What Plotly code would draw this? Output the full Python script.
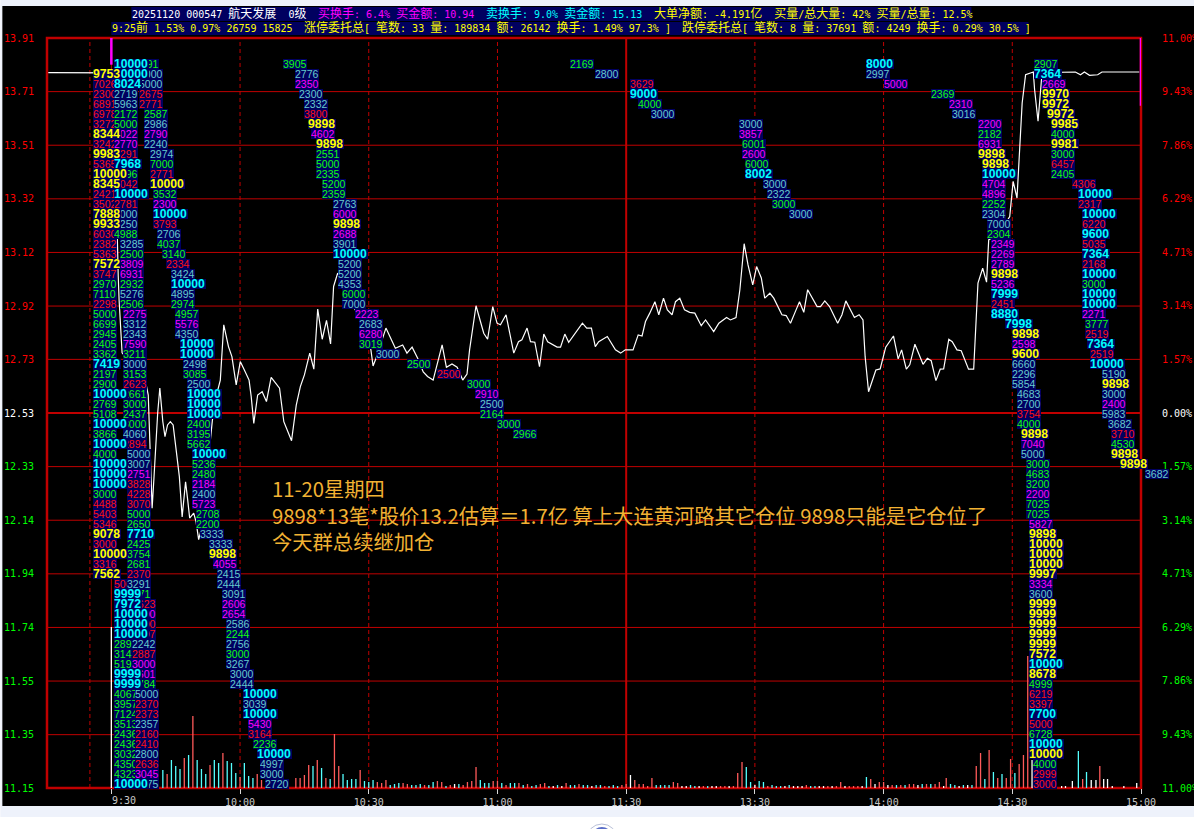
import re
import plotly.graph_objects as go

# Price line: minutes after 9:30 (lunch removed), price
price_minutes = [-14.7, -4.2, 0.5, 1.6, 1.8, 2.5, 7.9, 8.6, 8.9, 9.5, 9.9, 10.5, 10.8, 11.3, 12.0, 12.5, 13.1, 13.75, 14.4,
                 15.3, 15.85, 16.5, 16.95, 17.3, 17.8, 18.25, 19.2, 19.75, 20.35, 20.75, 21.7, 22.6, 23.55, 24.5, 25.4,
                 26.2, 27.3, 28.1, 29.1, 30.05, 31, 32.1, 32.6, 33.2, 34.1, 35.15, 36.15, 37.25, 39.2, 40.2, 42, 43.1,
                 44.05, 45, 46.25, 47.2, 48.1, 49.15, 50.15, 51.1, 51.8, 52.75, 54.5, 56.9, 59.2, 60.5, 61, 61.7, 64,
                 66.2, 67.9, 68.9, 70.1, 71.4, 72.7, 73.7, 75, 77.1, 78.1, 79.4, 80.6, 81.9, 82.9, 83.5, 85, 86.8, 87.7,
                 88.9, 89.9, 90.7, 92, 93.8, 94.9, 95.7, 96.9, 97.7, 98.7, 99.8, 100.8, 101.7, 103.9, 104.7, 105.7,
                 106.6, 108.2, 109.8, 110.8, 111.9, 112.8, 113.6, 115.6, 117.5, 118.7, 119.8, 121.6, 122.8, 123.7,
                 124.5, 125.5, 126.7, 127.6, 128.7, 129.6, 130.7, 131.5, 132.5, 133.6, 134.8, 136, 137.5, 138.5, 140.4,
                 141.6, 143.4, 144.3, 145.6, 146.5, 147.5, 148.4, 149.5, 150.4, 151.5, 152.3, 153.5, 154.4, 156.3,
                 157.3, 158.3, 159.6, 160.4, 161.4, 162.3, 164.5, 165.3, 166.3, 167.4, 169.3, 170.3, 171.2, 173.2,
                 174.3, 175.2, 175.7, 176.5, 178.2, 179.2, 180.5, 182.3, 183.4, 184.2, 185.3, 186.1, 187.3, 189.2,
                 190.2, 191.1, 192.2, 193.2, 194, 195.2, 196, 197.1, 198.1, 199.8, 201, 201.4, 201.8, 202, 203.1, 204,
                 204.5, 207.2, 209.4, 210.2, 211.1, 211.7, 212.3, 213.1, 214.9, 215.2, 216, 216.8, 217.3, 224.7, 225.9,
                 226.8, 228, 229.9, 230.9, 239.6]
price_values = [13.781, 13.781, 13.78, 13.034, 12.946, 12.751, 12.651, 12.596, 12.438, 12.18, 12.284, 12.456, 12.53, 12.622,
                12.498, 12.443, 12.486, 12.498, 12.486, 12.369, 12.296, 12.148, 12.236, 12.277, 12.21, 12.144, 12.162,
                12.13, 12.065, 12.089, 12.173, 12.357, 12.504, 12.596, 12.651, 12.854, 12.774, 12.737, 12.633, 12.719,
                12.688, 12.651, 12.59, 12.492, 12.596, 12.608, 12.572, 12.661, 12.621, 12.498, 12.428, 12.559, 12.627,
                12.67, 12.75, 12.691, 12.912, 12.801, 12.87, 12.784, 12.995, 13.044, 12.983, 12.909, 12.835, 12.762,
                12.703, 12.731, 12.842, 12.768, 12.78, 12.75, 12.772, 12.731, 12.681, 12.664, 12.651, 12.78, 12.698,
                12.71, 12.698, 12.651, 12.673, 12.762, 12.924, 12.823, 12.801, 12.921, 12.86, 12.854, 12.891, 12.75,
                12.792, 12.799, 12.842, 12.792, 12.79, 12.7, 12.82, 12.792, 12.772, 12.772, 12.82, 12.79, 12.823, 12.86,
                12.842, 12.842, 12.774, 12.792, 12.811, 12.762, 12.75, 12.762, 12.762, 12.817, 12.813, 12.866, 12.897,
                12.939, 12.891, 12.952, 12.909, 12.891, 12.939, 12.952, 12.909, 12.9, 12.897, 12.851, 12.872, 12.829,
                12.86, 12.881, 12.872, 12.881, 12.983, 13.152, 13.074, 13.001, 13.068, 13.026, 12.952, 12.97, 12.952,
                12.891, 12.888, 12.86, 12.909, 12.939, 12.9, 12.983, 12.921, 12.921, 12.942, 12.921, 12.86, 12.891,
                12.942, 12.881, 12.891, 12.872, 12.737, 12.608, 12.688, 12.692, 12.772, 12.813, 12.729, 12.762, 12.691,
                12.707, 12.783, 12.709, 12.731, 12.722, 12.649, 12.691, 12.692, 12.801, 12.792, 12.762, 12.759, 12.691,
                12.691, 12.805, 12.964, 13.007, 13.062, 13.011, 13.166, 13.196, 13.252, 13.381, 13.32, 13.504, 13.669,
                13.773, 13.783, 13.718, 13.602, 13.755, 13.781, 13.783, 13.773, 13.783, 13.771, 13.773, 13.783, 13.783]

# Volume bars: height + colour code (r up, t down, w flat)
vol_open_minutes = [0]
vol_open = "161w"
vol_early_minutes = list(range(12, 36))
vol_early = "18t 14r 28t 22t 19t 30r 33t 72r 28t 19t 14t 23r 28t 25t 35r 27t 25t 15t 11r 25t 12t 10t 14r 8r"
vol_mid_minutes = list(range(43, 195))
vol_mid = ("10r 10r 13r 23r 22t 28r 20t 10r 9t 54r 22r 14t 8t 9t 9t 18r 7t 6t 8t 6r 5r 8r 3t 4t 5t 5r 4r 3t 3t 4t 3r 3t 6t 7r 6r "
           "2t 3r 4w 4t 3r 6r 7r 21r 8t 5t 5t 7r 7r 5t 3r 5t 5t 5r 3t 4r 2t 3t 4r 5r 2t 2w 3t 2w 5r 3t 3t 4r 3t 3t 2w 3t 3t 2r 2t "
           "3t 2t 3r 4r 13w 8r 4r 4r 2r 10r 3t 3t 3t 3t 6r 5r 2w 2w 3t 2t 2w 2r 2t 2w 2w 2r 2r 2w 2r 15r 26r 21t 6t 3w 7t 6t 2r 3t "
           "2t 2t 2w 3t 2w 2w 2w 3r 2t 2t 2w 2w 2r 2w 2r 6r 2w 2r 2r 2r 2w 11t 9r 4w 6r 6r 3w 3r 3t 3r 3t 4r 4r 3w 4t 4r 4t 4r 6r 2w")
vol_late_minutes = [194.6, 195.6, 196.6, 197.6, 198.6, 199.6, 200.6, 201.6, 202.6, 203.6, 204.6, 205.6, 206.6, 207.6, 208.6,
                    209.6, 210.6, 211.6, 212.6, 213.6, 214.6, 221.5, 222.4, 224, 225.4, 226.4, 227.3, 228.4, 229.5, 230.4,
                    231.3, 232.2, 233.3, 236, 239]
vol_late = ("10r 4t 3t 2w 3t 3w 3t 22r 35r 9t 38r 16t 10r 14t 10r 29r 15t 24r 33r 132r 28w "
            "2w 2w 7w 37t 9r 16t 8w 8w 22r 9w 9w 2w 2w 5w")

# Big-order tags, one column per list: (minute, "value+colour ...") stacked row by row
col_a_row = 1
col_a = [(-4.2, "9753y 7026r 2300r 6891r 6978r 3272r 8344y 3242r 9983y 5365r 10000y 8345y 2421r 3502r 7888y 9933y 6030r "
                "2382r 5363r 7572y 3747r 2970g 7110g 2298r 5000g 6699g 2945g 2405g 3362g 7419c 2197g 2900g 10000c 2769g "
                "5108g 10000c 3866g 10000c 4000g 10000c 10000c 10000c 3000g 4488r 5403r 5346r 9078y 3000r 10000y 3316r 7562y"),
         (0.6, "5064r 9999c 7972c 10000c 10000c 10000c 2892g 3142g 5192g 9999c 9999c 4067g 3957g 7124g 3513g 2436g 2436g "
               "3032g 4350g 4323g 10000c")]
col_b_row = 0
col_b = [(0.7, "10000c 10000c 8024c 2719t 5963t 2172g 5000g 3022m 2770m 3291r 7968c 2096g 2042r 10000c 2781r 3000t 2250t 4988g"),
         (1.9, "3285t 2500g 3809m 6931m 2932g 5276t 2506g"),
         (2.8, "2275m 3312t 2343t 7590m 3211g 3000t 3153g 2623r 2661g 3000g 2437g 3000g 4060t 2894r"),
         (3.7, "5000t 3007t 2751m 3828r 4228r 3070r 5000g 2650g 7710c 2425g 3754g 2681g 2370r 3291t 2471g"),
         (4.9, "2623r 3000m 5000r 3007r 2242t 2887r 3000m 5601m 2784g"),
         (5.6, "5000t 2370r 2373r 2357t 2160r 2410r 2800t 2636r 3045m 2675t")]
col_c_row = 0
col_c = [(5.6, "2491g"), (6.5, "3000t 5000t 2675r 2771r"), (7.7, "2587g 2986t 2790m 2240t"),
         (8.9, "2974t 7000g 2771r 10000y"), (9.8, "3532g 2300m 10000c 3793r"), (10.7, "2706t 4037g"), (11.9, "3140g"),
         (12.8, "2334r"), (13.8, "3424t 10000c 4895t 2974g"), (14.9, "4957g 5576m 4350t"), (15.9, "10000c 10000c"),
         (16.8, "2498t 3085g"), (17.7, "2500t 10000c 10000c 10000c 2400g 3195g 5662g"),
         (18.9, "10000c 5236g 2480g 2184m 2400t 5723m"), (19.8, "2708g 2200g"), (20.7, "3333t"), (22.8, "3333t 9898y"),
         (23.8, "4055m"), (24.7, "2415t 2444t"), (25.9, "3091t 2606m 2654m"), (26.8, "2586t 2244g 2756t 3000g 3267t"),
         (27.7, "3000t 2444t"), (30.8, "10000c 3039t 10000c"), (31.9, "5430m 3164r"), (32.9, "2236g"), (34.0, "10000c"),
         (34.7, "4997t 3000t"), (35.7, "2720t")]
col_d_row = 0
col_d = [(39.9, "3905g"), (42.9, "2776t 2350m"), (43.8, "2300t"), (44.8, "2332t 3800r"), (45.9, "9898y"), (46.6, "4602m"),
         (47.6, "9898y 2551g 5000g 2335g"), (49.0, "5200g 2359g"), (51.7, "2763t 6000m 9898y 2688m 3901t 10000c"),
         (52.9, "5200t 5200t 4353t"), (53.8, "6000g 7000t"), (56.9, "2223m"), (57.8, "2683t 6280m 3019g"), (61.8, "3000t"),
         (68.8, "2500g"), (76.0, "2500r"), (83.0, "3000g"), (84.8, "2910m"), (86.0, "2500t 2164g"), (90.0, "3000g"),
         (93.7, "2966g")]
col_e_row = 0
col_e = [(107.0, "2169g"), (112.8, "2800t"), (121.0, "3629r 9000c"), (122.8, "4000g"), (125.9, "3000t")]
col_f_row = 6
col_f = [(146.2, "3000t 3857m"), (147.1, "6001g 2600m"), (147.8, "6000g 8002c"), (152.0, "3000t"), (152.9, "2322t"),
         (154.1, "3000g"), (158.0, "3000t")]
col_g_row = 0
col_g = [(176.0, "8000c 2997t"), (180.0, "5000m"), (191.1, "2369g"), (195.3, "2310m"), (196.0, "3016t"),
         (202.1, "2200m 2182g 6931m 9898y"), (203.0, "9898y 10000c 4704m 4896m 2252g 2304t"), (204.2, "7000t 2304g"),
         (205.1, "2349m 2269m 2789m 9898y 5236m 7999c 2451r 8880c"), (208.4, "7998c"),
         (210.0, "9898y 2598m 9600y 6660t 2296t 5854t"), (211.0, "4683t 2700t 3754r 4000g"), (212.1, "9898y 7040m 5000t"),
         (213.1, "3000g 4683g 3200g 2200m 7025g 7025g"),
         (214.0, "5827m 9898y 10000y 10000y 10000y 9997y 3334m 3600t 9999y 9999y 9999y 9999y 9999y 7572y 10000c 8678y "
                 "4999g 6219r 3397r 7700c 5000r 6728g 10000c 10000y"),
         (214.9, "4000g 2999r 3000r")]
col_h_row = 0
col_h = [(215.0, "2907g 7364c"), (217.0, "2669m 9970y 9972y"), (218.2, "9972y"), (219.1, "9985y 4000g 9981y 3000g 6457r 2405g"),
         (224.0, "4306r"), (225.2, "10000c 2317r"),
         (226.3, "10000c 6220r 9600c 5035r 7364c 2168r 10000c 3000g 10000c 10000c 2271m"), (227.0, "3777g 2519r"),
         (227.3, "7364c"), (228.2, "2519r 10000c"), (231.0, "5190t 9898y 3000t 2400m 5983t"), (232.2, "3682t"),
         (233.1, "3710r 4530g 9898y"), (235.2, "9898y"), (241.0, "3682t")]

# Axis ticks
time_ticks = [0, 30, 60, 90, 120, 150, 180, 210, 240]
time_labels = ["", "10:00", "10:30", "11:00", "11:30", "13:30", "14:00", "14:30", "15:00"]
price_ticks = [13.908, 13.711, 13.514, 13.317, 13.12, 12.923, 12.727, 12.53, 12.333, 12.136, 11.939, 11.742, 11.545, 11.348, 11.152]
price_labels = ["13.91", "13.71", "13.51", "13.32", "13.12", "12.92", "12.73", "12.53", "12.33", "12.14", "11.94", "11.74", "11.55", "11.35", "11.15"]
pct_ticks = [11, 9.43, 7.86, 6.29, 4.71, 3.14, 1.57, 0, -1.57, -3.14, -4.71, -6.29, -7.86, -9.43, -11]
pct_labels = ["11.00%", "9.43%", "7.86%", "6.29%", "4.71%", "3.14%", "1.57%", "0.00%", "1.57%", "3.14%", "4.71%", "6.29%", "7.86%", "9.43%", "11.00%"]

RED_LINE = "#c00000"
NAVY = "#000060"
TAG_COLORS = {"r": "#ff1010", "g": "#10ff10", "t": "#66cccc", "m": "#ff00ff", "y": "#ffff00", "c": "#00ffff"}
BAR_COLORS = {"r": "#ff5a5a", "t": "#55ffff", "w": "#ffffff"}
MONO = "DejaVu Sans Mono, Noto Sans CJK SC"

# plot frame in page pixels
L, R, T, B = 46.65, 1140.6, 38, 788
W, H = 1194, 829


def px(x):
    return (x - L) / (R - L)


def py(y):
    return (B - y) / (B - T)


def page_rect(x0, y0, x1, y1, color):
    return dict(type="rect", xref="paper", yref="paper", x0=px(x0), x1=px(x1), y0=py(y1), y1=py(y0),
                fillcolor=color, line_width=0, layer="below")


def colored(labels, colors):
    return [f'<span style="color:{c}">{t}</span>' for t, c in zip(labels, colors)]


def cjk(s):
    return re.sub(r"([^\x00-\x7f]+)", r'<span style="font-size:12px">\1</span>', s)


fig = go.Figure()

# volume sticks on the primary axis so the price line is painted over them
sticks = {"r": ([], []), "t": ([], []), "w": ([], [])}
for mins, toks in [(vol_open_minutes, vol_open), (vol_early_minutes, vol_early), (vol_mid_minutes, vol_mid), (vol_late_minutes, vol_late)]:
    for m, tok in zip(mins, toks.split()):
        xs, ys = sticks[tok[-1]]
        xs += [m, m, None]
        ys += [0, float(tok[:-1]), None]
for code, (xs, ys) in sticks.items():
    fig.add_trace(go.Scatter(x=xs, y=ys, mode="lines", line=dict(color=BAR_COLORS[code], width=1.3), yaxis="y"))

fig.add_trace(go.Scatter(x=price_minutes, y=price_values, mode="lines", line=dict(color="white", width=1.2), yaxis="y2"))
# limit markers on the frame
fig.add_trace(go.Scatter(x=[0, 0], y=[13.908, 13.81], mode="lines", line=dict(color="#ff00ff", width=2.5), yaxis="y2", cliponaxis=False))
fig.add_trace(go.Scatter(x=[240, 240], y=[13.908, 13.659], mode="lines", line=dict(color="#ff00ff", width=2.5), yaxis="y2", cliponaxis=False))
# keep the percent and row axes alive
fig.add_trace(go.Scatter(x=[0], y=[0], mode="lines", yaxis="y3", line_width=0))
fig.add_trace(go.Scatter(x=[0], y=[0], mode="lines", yaxis="y4", line_width=0))

# tags: plain first (third column, left, middle, rest), bold on top from right to left
tags = []
for start, col in [(col_c_row, col_c), (col_a_row, col_a), (col_b_row, col_b), (col_d_row, col_d), (col_e_row, col_e),
                   (col_f_row, col_f), (col_g_row, col_g), (col_h_row, col_h)]:
    row = start
    for minute, tokens in col:
        for tok in tokens.split():
            tags.append((minute, row, tok[:-1], tok[-1]))
            row += 1
plain = [t for t in tags if t[3] not in "yc"]
bold = sorted([t for t in tags if t[3] in "yc"], key=lambda t: -t[0])

annotations = []
for minute, row, text, code in plain + bold:
    is_bold = code in "yc"
    label = f"<b>{text}</b>" if is_bold else text
    # a tag past 15:00 would be dropped on the x axis, so place it as a fraction of the axis
    in_range = minute <= 240
    annotations.append(dict(x=minute if in_range else (minute + 15) / 255, y=row, xref="x" if in_range else "paper", yref="y4",
                            text=label, showarrow=False, xanchor="left", yanchor="middle", align="left",
                            width=len(text) * (6.8 if is_bold else 5.85) + 1, height=10,
                            borderpad=0, borderwidth=0, bgcolor=NAVY,
                            font=dict(family="Liberation Sans", size=12.2 if is_bold else 10.5, color=TAG_COLORS[code])))

# header strips
WHITE, MAGENTA, CYAN, YELLOW = "#ffffff", "#ff00ff", "#00ffff", "#ffff00"
header = [(131, 14, "20251120 000547 航天发展  0级", WHITE),
          (317, 14, "买换手: 6.4% 买金额: 10.94", MAGENTA),
          (485, 14, "卖换手: 9.0% 卖金额: 15.13", CYAN),
          (653, 14, "大单净额: -4.191亿  买量/总大量: 42% 买量/总量: 12.5%", YELLOW),
          (111, 28, "9:25前 1.53% 0.97% 26759 15825", YELLOW),
          (303, 28, "涨停委托总[ 笔数: 33 量: 189834 额: 26142 换手: 1.49% 97.3% ]", YELLOW),
          (681, 28, "跌停委托总[ 笔数: 8 量: 37691 额: 4249 换手: 0.29% 30.5% ]", YELLOW)]
for x, y, text, color in header:
    annotations.append(dict(x=px(x), y=py(y), xref="paper", yref="paper", text=cjk(text), showarrow=False,
                            xanchor="left", yanchor="middle", borderpad=0,
                            font=dict(family=MONO, size=10, color=color)))

# hand-written note
note = [(488, "11-20星期四"),
        (515, "9898*13笔*股价13.2估算＝1.7亿 算上大连黄河路其它仓位 9898只能是它仓位了"),
        (541, "今天群总续继加仓")]
for y, text in note:
    annotations.append(dict(x=px(270), y=py(y), xref="paper", yref="paper", text=text, showarrow=False,
                            xanchor="left", yanchor="middle",
                            font=dict(family="Noto Sans CJK SC", size=20.3, color="#f2b233")))

annotations.append(dict(x=px(110), y=py(800), xref="paper", yref="paper", text="9:30", showarrow=False,
                        xanchor="left", yanchor="middle", font=dict(family=MONO, size=10, color="#c8c8c8")))

shapes = [page_rect(0, 0, W, 6, "#eef2fb"), page_rect(0, 6, 2, 806, "#eef2fb"),
          page_rect(2, 6, W, 806, "#000000"), page_rect(0, 806, W, 817, "#eef2fb"),
          page_rect(131, 7, 971, 21, NAVY), page_rect(111, 22, 1028, 35, NAVY),
          dict(type="circle", xref="paper", yref="paper", x0=px(586), x1=px(617), y0=py(855), y1=py(824),
               line=dict(color="#b8c0d8", width=1), layer="below"),
          dict(type="circle", xref="paper", yref="paper", x0=px(591), x1=px(612), y0=py(848), y1=py(827),
               fillcolor="#5a6ec8", line_width=0, layer="below")]
for p in price_ticks:
    shapes.append(dict(type="line", xref="paper", yref="y2", x0=0, x1=1, y0=p, y1=p, layer="below",
                       line=dict(color=RED_LINE, width=1)))
for m in [-5, 30, 60, 90, 150, 180, 210]:
    shapes.append(dict(type="line", xref="x", yref="paper", x0=m, x1=m, y0=0, y1=1, layer="below",
                       line=dict(color=RED_LINE, width=1, dash="4px,3px")))
shapes.append(dict(type="line", xref="x", yref="paper", x0=0, x1=0, y0=0, y1=1, layer="below", line=dict(color=RED_LINE, width=1)))
shapes.append(dict(type="line", xref="x", yref="paper", x0=120, x1=120, y0=0, y1=1, layer="below", line=dict(color=RED_LINE, width=2)))
shapes.append(dict(type="line", xref="paper", yref="y2", x0=0, x1=1, y0=12.53, y1=12.53, layer="below", line=dict(color=RED_LINE, width=2)))
shapes.append(dict(type="rect", xref="paper", yref="paper", x0=0, x1=1, y0=0, y1=1, layer="below", line=dict(color=RED_LINE, width=2.5)))

price_colors = ["#ff0000"] * 7 + ["#ffffff"] + ["#00ff00"] * 7

fig.update_layout(
    width=W, height=H, showlegend=False, hovermode=False,
    paper_bgcolor="#ffffff", plot_bgcolor="#000000",
    margin=dict(l=L, r=W - R, t=T, b=H - B, pad=0, autoexpand=False),
    xaxis=dict(range=[-15, 240], tickvals=time_ticks, ticktext=time_labels, showgrid=False, zeroline=False,
               ticks="outside", ticklen=5, tickwidth=1, tickcolor="#d8d8d8",
               tickfont=dict(family=MONO, size=10, color="#c8c8c8")),
    yaxis=dict(range=[0, 750], visible=False, fixedrange=True),
    yaxis2=dict(range=[11.152, 13.908], overlaying="y", side="left", tickvals=price_ticks,
                ticktext=colored(price_labels, price_colors), showgrid=False,
                zeroline=False, ticks="", ticklabelstandoff=12, tickfont=dict(family=MONO, size=10)),
    yaxis3=dict(range=[-11, 11], overlaying="y", side="right", tickvals=pct_ticks,
                ticktext=colored(pct_labels, price_colors), showgrid=False, zeroline=False, ticks="",
                ticklabelstandoff=20, tickfont=dict(family=MONO, size=10)),
    yaxis4=dict(range=[72.4, -2.6], overlaying="y", visible=False),
    shapes=shapes, annotations=annotations,
)

fig.write_html("out.html", config={"displayModeBar": False},
               post_script="document.body.style.margin='0';document.body.style.overflow='hidden';")
